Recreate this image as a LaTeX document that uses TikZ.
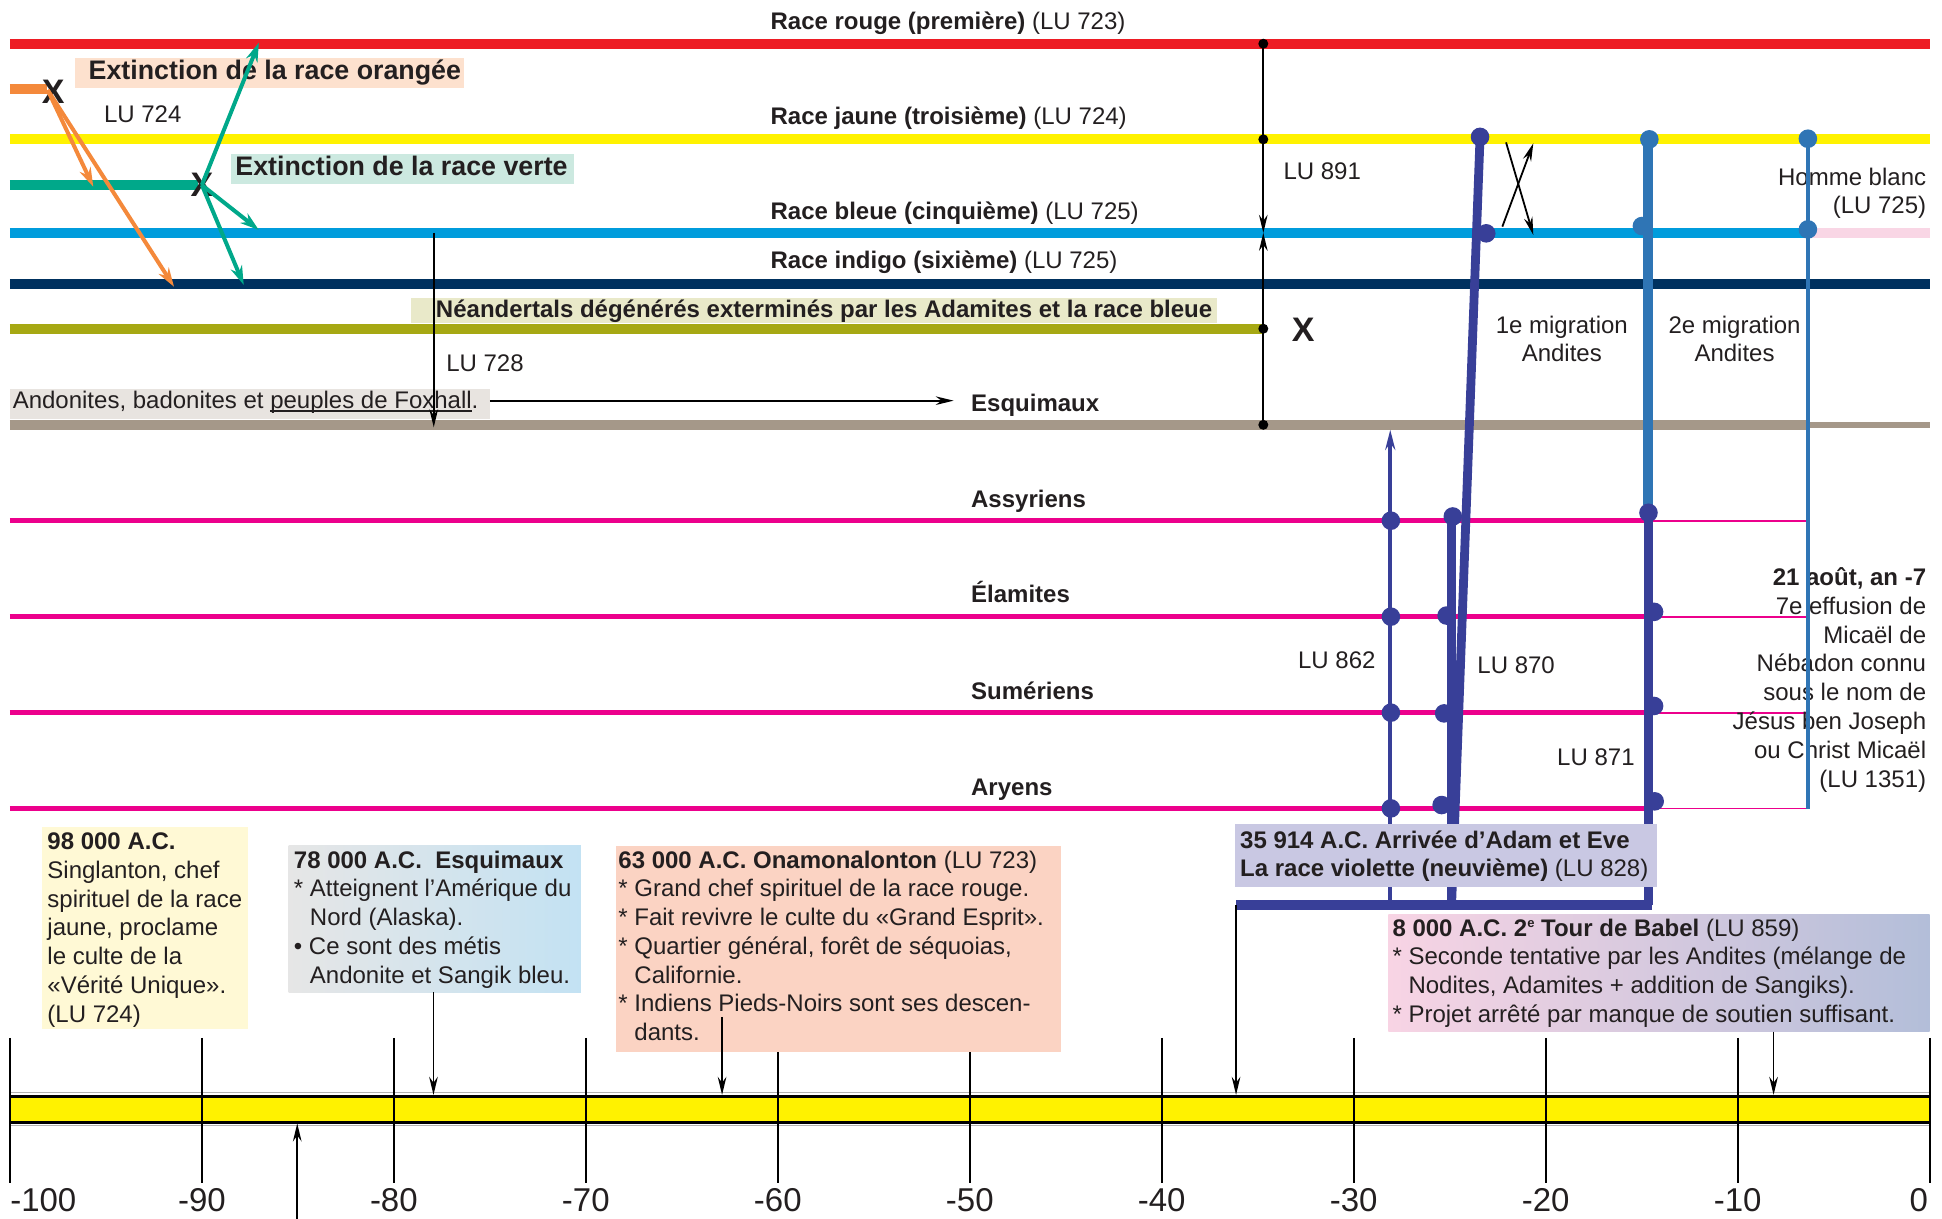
\documentclass[tikz,border=0pt]{standalone}
\usepackage{fontspec}
\setmainfont{Liberation Sans}
\usetikzlibrary{arrows.meta,fit}
\definecolor{cRed}{HTML}{ED1C24}
\definecolor{cOrange}{HTML}{F4893B}
\definecolor{cYellow}{HTML}{FFF200}
\definecolor{cGreen}{HTML}{00A88A}
\definecolor{cBlue}{HTML}{009CDC}
\definecolor{cNavy}{HTML}{00315F}
\definecolor{cOlive}{HTML}{A6A813}
\definecolor{cTaupe}{HTML}{A59889}
\definecolor{cMag}{HTML}{EC008C}
\definecolor{cViolet}{HTML}{383F98}
\definecolor{cSteel}{HTML}{2F75B5}
\definecolor{cPinkL}{HTML}{F9D6E5}
\definecolor{bgOrange}{HTML}{FDE1CE}
\definecolor{bgGreen}{HTML}{CCE9E0}
\definecolor{bgOlive}{HTML}{E9E9C9}
\definecolor{bgTaupe}{HTML}{E8E4E0}
\definecolor{bgYel}{HTML}{FFF9D5}
\definecolor{bgGrayL}{HTML}{E6E6E6}
\definecolor{bgBlueL}{HTML}{C3E2F3}
\definecolor{bgPeach}{HTML}{FBD3C3}
\definecolor{bgLav}{HTML}{C9C8E3}
\definecolor{bgPink}{HTML}{F8D4E4}
\definecolor{bgSlate}{HTML}{B3BED9}
\definecolor{txt}{HTML}{231F20}
\newcommand\myst{\rule{0pt}{10pt}}
\newcommand\myul[1]{\setbox0\hbox{#1}\rlap{\rule[-1.6pt]{\wd0}{0.6pt}}\box0}
\newcommand\mysup[1]{\raisebox{4.2pt}{\fontsize{6.5}{7}\selectfont #1}}
\begin{document}
\begin{tikzpicture}[x=0.6193pt,y=-0.6193pt,
  every node/.style={text=txt, inner sep=0pt},
  nt/.style={font=\fontsize{12}{14.4}\selectfont, anchor=base west},
  nb/.style={font=\fontsize{12}{14.4}\selectfont\bfseries, anchor=base west},
  bigl/.style={font=\fontsize{13.4}{16}\selectfont\bfseries, anchor=base west},
  xmark/.style={font=\fontsize{17}{20}\selectfont\bfseries},
  boxtext/.style={font=\fontsize{12}{14.4}\selectfont, anchor=north west, align=left},
  race/.style={line width=5pt},
  thinarrow/.style={black, line width=0.9pt, -{Stealth[length=9pt,width=4.3pt]}},
  colarrow/.style={line width=2pt, -{Stealth[length=9.5pt,width=6pt]}},
  bdot/.style={circle, fill=black, minimum size=5pt},
  vdot/.style={circle, minimum size=9.3pt},
  bgbox/.style={inner sep=0pt, draw=none},
  axlab/.style={font=\fontsize{16.5}{19}\selectfont, anchor=base},
]
\useasboundingbox (0,0) rectangle (1568,984);

% ---------- race lines ----------
\draw[race,cRed] (8,35.3) coordinate (redL) -- (1558,35.3) coordinate (redR);
\draw[race,cOrange] (8,71.6) coordinate (orL) -- (38,71.6) coordinate (orR);
\draw[race,cYellow] (8,112.5) coordinate (yeL) -- (1558,112.5) coordinate (yeR);
\draw[race,cGreen] (8,149.4) coordinate (grL) -- (160,149.4) coordinate (grR);
\draw[race,cBlue] (8,188) coordinate (blL) -- (1459.7,188) coordinate (blR);
\draw[race,cPinkL] (blR) -- (1558,188) coordinate (pkR);
\draw[race,cNavy] (8,229) coordinate (naL) -- (1558,229) coordinate (naR);
\draw[race,cOlive] (8,265.4) coordinate (olL) -- (1020,265.4) coordinate (olR);
\draw[race,cTaupe] (8,343) coordinate (taL) -- (1459.7,343) coordinate (taR);
\draw[line width=3pt,cTaupe] (taR) -- (1558,343) coordinate (taE);
\foreach \n/\y in {as/420.4,el/497.9,su/575.4,ar/652.7}{
  \draw[line width=2.5pt,cMag] (8,\y) coordinate (\n L) -- (1331,\y) coordinate (\n M);
  \draw[line width=0.9pt,cMag] (\n M) -- (1459.7,\y) coordinate (\n R);
}

% ---------- labels on lines ----------
\node[nt] (lred) at (621.9,23.5) {\textbf{Race rouge (première)} (LU 723)};
\node[nt] (lyel) at (621.9,100.5) {\textbf{Race jaune (troisième)} (LU 724)};
\node[nt] (lblu) at (621.9,177.5) {\textbf{Race bleue (cinquième)} (LU 725)};
\node[nt] (lnav) at (621.9,216.5) {\textbf{Race indigo (sixième)} (LU 725)};
\node[nb] (lesq) at (783.8,332.4) {Esquimaux};
\node[nb] (lass) at (783.8,410) {Assyriens};
\node[nb] (lela) at (783.8,486.6) {Élamites};
\node[nb] (lsum) at (783.8,565) {Sumériens};
\node[nb] (lary) at (783.8,642) {Aryens};

\node[bgbox, fill=bgOrange, fit={(60.3,47) (374.3,71.3)}] (bxor) {};
\node[bigl] (txor) at (71.3,64) {Extinction de la race orangée};
\node[bgbox, fill=bgGreen, fit={(186.5,124.3) (463.6,148.8)}] (bxgr) {};
\node[bigl] (txgr) at (189.8,141.3) {Extinction de la race verte};
\node[nt] (lu724) at (83.7,99) {LU 724};
\node[bgbox, fill=bgOlive, fit={(332,240.7) (983,261)}] (bxne) {};
\node[nb] (txne) at (351.7,256.2) {Néandertals dégénérés exterminés par les Adamites et la race bleue};
\node[bgbox, fill=bgTaupe, fit={(7.7,314) (395.5,338.6)}] (bxan) {};
\node[nt] (txan) at (10,329.7) {Andonites, badonites et \myul{peuples de Foxhall}.};
\node[nt] (lu728) at (360,300) {LU 728};
\node[nt] (lu891) at (1036,145.3) {LU 891};
\node[nt, anchor=base east] (hb1) at (1555.5,149.4) {Homme blanc};
\node[nt, anchor=base east] (hb2) at (1555.5,172.3) {(LU 725)};
\node[nt, anchor=base] (m1a) at (1261,269) {1e migration};
\node[nt, anchor=base] (m1b) at (1261,292) {Andites};
\node[nt, anchor=base] (m2a) at (1400.5,269) {2e migration};
\node[nt, anchor=base] (m2b) at (1400.5,292) {Andites};
\node[nt] (lu862) at (1047.8,539.6) {LU 862};
\node[nt] (lu870) at (1192.6,543.7) {LU 870};
\node[nt] (lu871) at (1257,617.7) {LU 871};
\node[boxtext, anchor=north east, align=right] (aout) at (1555.5,456.3)
  {\myst\textbf{21 août, an -7}\\7e effusion de\\Micaël de\\Nébadon connu\\sous le nom de\\Jésus ben Joseph\\ou Christ Micaël\\(LU 1351)};

% ---------- extinction arrows ----------
\node[xmark] (xor) at (43,74) {X};
\node[xmark] (xgr) at (163,149.4) {X};
\node[xmark] (xol) at (1052.3,265.9) {X};
\coordinate (orS) at (38.5,72.7);
\coordinate (orT1) at (75.3,150.7);
\coordinate (orT2) at (140.5,231.5);
\draw[colarrow,cOrange] (orS) -- (orT1);
\draw[colarrow,cOrange] (orS) -- (orT2);
\coordinate (grS) at (163,149.4);
\coordinate (grT1) at (209,34.5);
\coordinate (grT2) at (209,185.7);
\coordinate (grT3) at (196.8,230);
\draw[colarrow,cGreen] (grS) -- (grT1);
\draw[colarrow,cGreen] (grS) -- (grT2);
\draw[colarrow,cGreen] (grS) -- (grT3);

% ---------- black connectors top ----------
\coordinate (k1) at (1020,35.3);
\coordinate (k2) at (1020,112.5);
\coordinate (kmid) at (1020,188);
\coordinate (k3) at (1020,265.4);
\coordinate (k4) at (1020,343);
\draw[thinarrow] (k1) -- (kmid);
\draw[thinarrow] (k4) -- (kmid);
\foreach \k in {k1,k2,k3,k4}{\node[bdot] at (\k) {};}
\coordinate (v728a) at (350.2,188);
\coordinate (v728b) at (350.2,345);
\draw[thinarrow] (v728a) -- (v728b);
\coordinate (esqA) at (395.5,323.5);
\coordinate (esqB) at (770,323.5);
\draw[thinarrow] (esqA) -- (esqB);
\coordinate (cr1a) at (1216,115);
\coordinate (cr1b) at (1238,189.7);
\coordinate (cr2a) at (1213,183);
\coordinate (cr2b) at (1238,115.7);
\draw[thinarrow] (cr1a) -- (cr1b);
\draw[thinarrow] (cr2a) -- (cr2b);

% ---------- migration verticals ----------
\coordinate (barL) at (998,731);
\coordinate (barR) at (1334,731);
% LU 862
\coordinate (l862b) at (1122.5,731);
\coordinate (l862t) at (1122.5,347);
\draw[cViolet, line width=1.9pt, -{Stealth[length=10pt,width=5pt]}] (l862b) -- (l862t);
\foreach \y [count=\i] in {420.4,497.9,575.4,652.7}{\node[vdot,fill=cViolet] (da\i) at (1123,\y) {};}
% LU 870
\coordinate (s1t) at (1195,110.5);
\coordinate (s1b) at (1172,731);
\coordinate (s2t) at (1172,418);
\draw[cViolet, line width=4.4pt] (s1t) -- (s1b);
\draw[cViolet, line width=4.6pt] (s2t) -- (s1b);
\node[vdot,fill=cViolet] (db0) at (1195,110.5) {};
\node[vdot,fill=cViolet] (db1) at (1200,188.4) {};
\node[vdot,fill=cViolet] (db2) at (1173,417) {};
\node[vdot,fill=cViolet] (db3) at (1168,497) {};
\node[vdot,fill=cViolet] (db4) at (1166,576) {};
\node[vdot,fill=cViolet] (db5) at (1164,650) {};
% 2nd migration
\coordinate (m2t) at (1331,112.5);
\coordinate (m2m) at (1331,408);
\coordinate (m2b) at (1331,731);
\draw[cSteel, line width=5pt] (m2t) -- (m2m);
\draw[cViolet, line width=4.6pt] (m2m) -- (m2b);
\node[vdot,fill=cSteel] (dc0) at (1331.7,112.5) {};
\node[vdot,fill=cSteel] (dc1) at (1325.7,182.5) {};
\node[vdot,fill=cViolet] (dc2) at (1331,414) {};
\node[vdot,fill=cViolet] (dc3) at (1335.5,494) {};
\node[vdot,fill=cViolet] (dc4) at (1335.5,570) {};
\node[vdot,fill=cViolet] (dc5) at (1336,647) {};
% thin steel
\coordinate (m3t) at (1459.7,112);
\coordinate (m3b) at (1459.7,653.5);
\draw[cSteel, line width=1.9pt] (m3t) -- (m3b);
\node[vdot,fill=cSteel] (dd0) at (1459.7,112) {};
\node[vdot,fill=cSteel] (dd1) at (1459.7,185.2) {};
% bar
\draw[cViolet, line width=5pt] (barL) -- (barR);

% ---------- time axis ----------
\fill[cYellow] (8,885) rectangle (1558,906);
\draw[gray!60, line width=0.6pt] (8,882.3) -- (1558,882.3);
\draw[gray!60, line width=0.6pt] (8,908.7) -- (1558,908.7);
\draw[black, line width=1.5pt] (8,885) -- (1558,885);
\draw[black, line width=1.5pt] (8,906) -- (1558,906);
\foreach \i in {0,...,10}{
  \pgfmathsetmacro\xx{8+155*\i}
  \draw[black, line width=0.9pt] (\xx,838) coordinate (tk\i) -- (\xx,955);
}
\node[axlab, anchor=base west] (ax0) at (8,978.4) {-100};
\foreach \i/\v in {1/-90,2/-80,3/-70,4/-60,5/-50,6/-40,7/-30,8/-20,9/-10}{
  \pgfmathsetmacro\xx{8+155*\i}
  \node[axlab] (ax\i) at (\xx,978.4) {\v};
}
\node[axlab, anchor=base east] (ax10) at (1557,978.4) {0};

% ---------- bottom boxes ----------
\node[bgbox, fill=bgYel, fit={(34,668) (200,831)}] (b98) {};
\node[boxtext] (t98) at (38,669.35) {\myst\textbf{98 000 A.C.}\\Singlanton, chef\\spirituel de la race\\jaune, proclame\\le culte de la\\«Vérité Unique».\\(LU 724)};

\node[bgbox, left color=bgGrayL, right color=bgBlueL, fit={(233,683) (469,801)}] (b78) {};
\node[boxtext] (t78) at (237,684.35) {\myst\textbf{78 000 A.C.\ \ Esquimaux}\\* Atteignent l’Amérique du\\\phantom{* }Nord (Alaska).\\• Ce sont des métis\\\phantom{* }Andonite et Sangik bleu.};

\node[bgbox, fill=bgPeach, fit={(497,683) (857,849)}] (b63) {};
\node[boxtext] (t63) at (499,684.35) {\myst\textbf{63 000 A.C. Onamonalonton} (LU 723)\\* Grand chef spirituel de la race rouge.\\* Fait revivre le culte du «Grand Esprit».\\* Quartier général, forêt de séquoias,\\\phantom{* }Californie.\\* Indiens Pieds-Noirs sont ses descen-\\\phantom{* }dants.};

\node[bgbox, fill=bgLav, fit={(997,665) (1338,716)}] (bad) {};
\node[boxtext] (tad) at (1001,668.35) {\myst\textbf{35 914 A.C. Arrivée d’Adam et Eve}\\\textbf{La race violette (neuvième)} (LU 828)};

\node[bgbox, left color=bgPink, right color=bgSlate, fit={(1121,738) (1558,833)}] (bba) {};
\node[boxtext] (tba) at (1124,739.35) {\myst\textbf{8 000 A.C. 2\mysup{e} Tour de Babel} (LU 859)\\* Seconde tentative par les Andites (mélange de\\\phantom{* }Nodites, Adamites + addition de Sangiks).\\* Projet arrêté par manque de soutien suffisant.};

% ---------- arrows to axis ----------
\coordinate (a78a) at (350,801);
\coordinate (a78b) at (350,884);
\draw[thinarrow] (a78a) -- (a78b);
\coordinate (a63a) at (583,821);
\coordinate (a63b) at (583,884);
\draw[thinarrow] (a63a) -- (a63b);
\coordinate (aadb) at (998,884);
\draw[thinarrow] (barL) -- (aadb);
\coordinate (abaa) at (1432,833);
\coordinate (abab) at (1432,884);
\draw[thinarrow] (abaa) -- (abab);
\coordinate (aupa) at (240,984);
\coordinate (aupb) at (240,907);
\draw[thinarrow] (aupa) -- (aupb);
\end{tikzpicture}
\end{document}
